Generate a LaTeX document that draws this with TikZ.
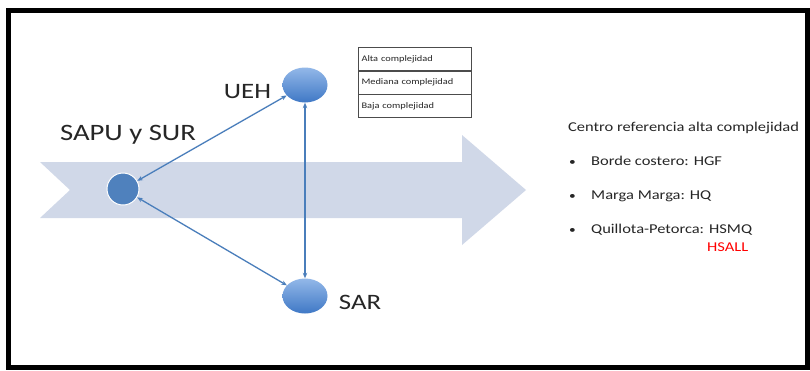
\documentclass[tikz,border=0pt]{standalone}
\usepackage{fontspec}
\setmainfont{Carlito}[FakeStretch=1.22]
\usetikzlibrary{arrows.meta,shapes.geometric}
\definecolor{bandblue}{HTML}{D0D8E8}
\definecolor{linkblue}{HTML}{4A7EBB}
\definecolor{nodeblue}{HTML}{4F81BD}
\definecolor{sitetop}{HTML}{93B8E8}
\definecolor{sitebottom}{HTML}{3F78C6}
\definecolor{txt}{HTML}{262626}
\tikzset{
  hub/.style={circle, fill=nodeblue, draw=white, line width=1pt, minimum size=32pt, inner sep=0pt},
  site/.style={ellipse, draw=none, top color=sitetop, bottom color=sitebottom,
               minimum width=45pt, minimum height=35pt, inner sep=0pt},
  link/.style={draw=linkblue, line width=1.3pt, {Stealth[length=5.5pt,width=4.5pt]}-{Stealth[length=5.5pt,width=4.5pt]}},
  biglabel/.style={font=\fontsize{22}{24}\selectfont, text=txt, inner sep=0pt},
  legendrow/.style={draw=black!70, line width=0.6pt, minimum width=113pt, minimum height=23pt,
                    text width=106pt, align=left, font=\fontsize{8.5}{10}\selectfont, text=txt, inner sep=0pt},
  sidetext/.style={font=\fontsize{13.5}{15}\selectfont, text=txt, anchor=west, inner sep=0pt},
}
\newcommand{\bulletitem}[1]{\makebox[22pt][l]{\fontsize{11}{12}\selectfont•}#1}
\begin{document}
\begin{tikzpicture}[x=1pt,y=-1pt]
\useasboundingbox (0,0) rectangle (810,370);
\fill[white] (0,0) rectangle (810,370);
% wide notched arrow in the background
\fill[bandblue] (40,162) -- (462,162) -- (462,135) -- (526,190) -- (462,245)
  -- (462,218) -- (40,218) -- (70,190) -- cycle;
% frame
\draw[black, line width=5pt] (8.5,10.5) rectangle (807.5,367.5);
% nodes
\node[hub] (sapu) at (123,189) {};
\node[site] (ueh) at (305,85) {};
\node[site] (sar) at (305,296) {};
\node[biglabel, font=\fontsize{23.5}{26}\selectfont] (lsapu) at (128,135) {SAPU y SUR};
\node[biglabel] (lueh) at (247.5,92) {UEH};
\node[biglabel] (lsar) at (360,302) {SAR};
% connections
\draw[link] (sapu) -- (ueh);
\draw[link] (sapu) -- (sar);
\draw[link] (ueh) -- (sar);
% complexity legend
\node[legendrow] (alta) at (414.5,59) {Alta complejidad};
\node[legendrow, anchor=north] (mediana) at (alta.south) {Mediana complejidad};
\node[legendrow, anchor=north] (baja) at (mediana.south) {Baja complejidad};
% reference centres
\node[sidetext] (title) at (568,128) {Centro referencia alta complejidad};
\node[sidetext] (b1) at (569,161) {\bulletitem{Borde costero: HGF}};
\node[sidetext] (b2) at (569,196) {\bulletitem{Marga Marga: HQ}};
\node[sidetext] (b3) at (569,230) {\bulletitem{Quillota-Petorca: HSMQ}};
\node[sidetext, text=red] (hsall) at (707,247) {HSALL};
\end{tikzpicture}
\end{document}
